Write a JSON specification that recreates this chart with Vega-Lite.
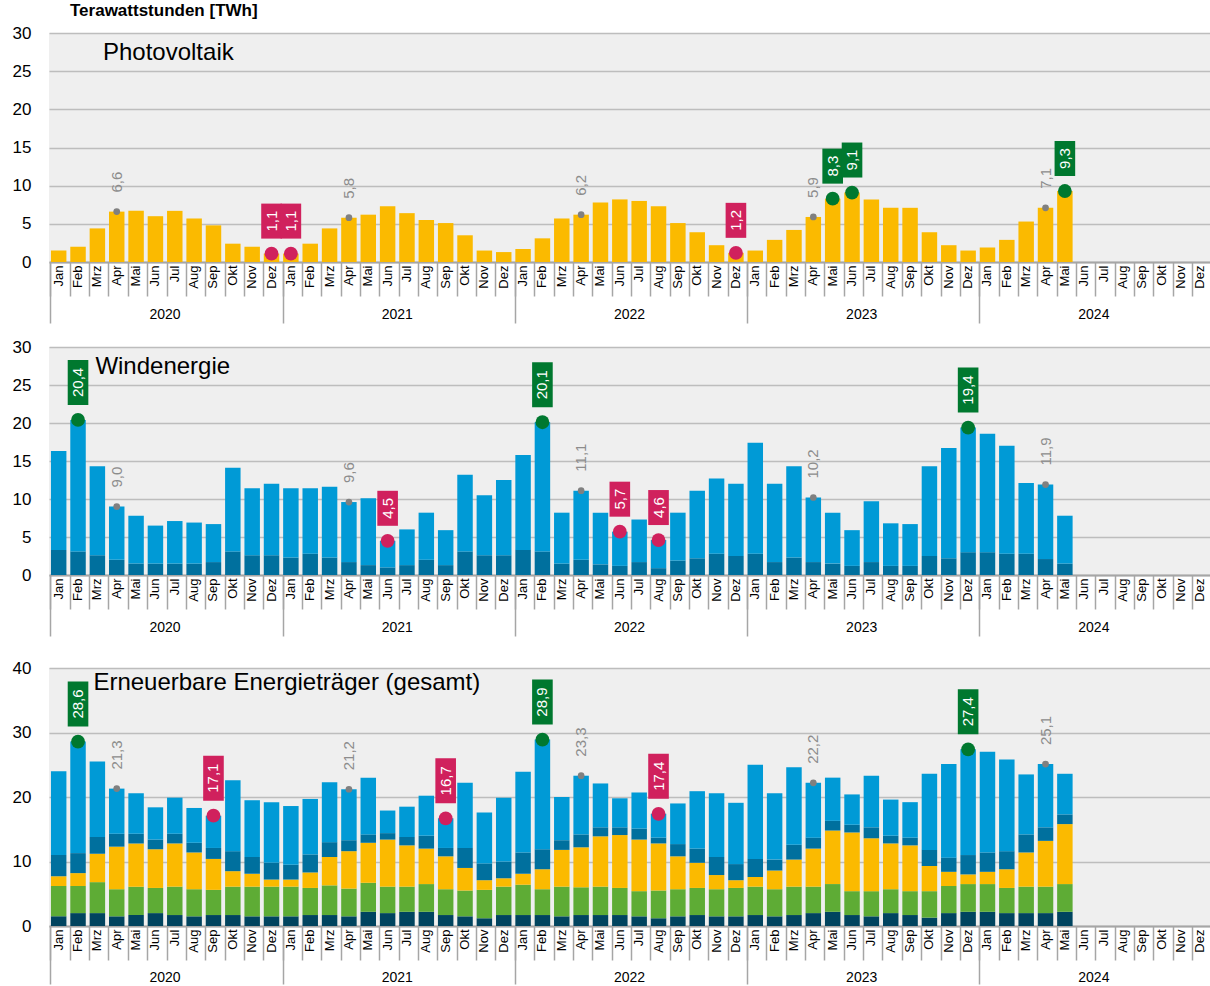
{
  "$schema": "https://vega.github.io/schema/vega-lite/v6.json",
  "padding": {"left": 12, "top": 2, "right": 0, "bottom": 0},
  "title": {"text": "Terawattstunden [TWh]", "anchor": "start", "frame": "group", "fontSize": 17, "fontWeight": "bold", "dx": 21, "offset": 4, "color": "#000000"},
  "datasets": {
    "main": [
      {"m":"2020-01","c_pv":1.5,"d_off":3.3,"e_on":13.0,"a_wasser":1.5,"b_bio":4.7},
      {"m":"2020-02","c_pv":2.0,"d_off":3.1,"e_on":17.3,"a_wasser":2.0,"b_bio":4.2},
      {"m":"2020-03","c_pv":4.4,"d_off":2.6,"e_on":11.7,"a_wasser":2.0,"b_bio":4.8},
      {"m":"2020-04","c_pv":6.6,"d_off":2.0,"e_on":7.0,"a_wasser":1.5,"b_bio":4.2},
      {"m":"2020-05","c_pv":6.7,"d_off":1.5,"e_on":6.3,"a_wasser":1.7,"b_bio":4.4},
      {"m":"2020-06","c_pv":6.0,"d_off":1.5,"e_on":5.0,"a_wasser":2.0,"b_bio":3.9},
      {"m":"2020-07","c_pv":6.7,"d_off":1.5,"e_on":5.6,"a_wasser":1.7,"b_bio":4.4},
      {"m":"2020-08","c_pv":5.7,"d_off":1.5,"e_on":5.4,"a_wasser":1.5,"b_bio":4.2},
      {"m":"2020-09","c_pv":4.8,"d_off":1.7,"e_on":5.0,"a_wasser":1.7,"b_bio":3.9},
      {"m":"2020-10","c_pv":2.4,"d_off":3.1,"e_on":11.0,"a_wasser":1.7,"b_bio":4.4},
      {"m":"2020-11","c_pv":2.0,"d_off":2.6,"e_on":8.8,"a_wasser":1.5,"b_bio":4.6},
      {"m":"2020-12","c_pv":1.1,"d_off":2.6,"e_on":9.4,"a_wasser":1.5,"b_bio":4.6},
      {"m":"2021-01","c_pv":1.1,"d_off":2.3,"e_on":9.1,"a_wasser":1.5,"b_bio":4.6},
      {"m":"2021-02","c_pv":2.4,"d_off":2.8,"e_on":8.6,"a_wasser":1.7,"b_bio":4.2},
      {"m":"2021-03","c_pv":4.4,"d_off":2.3,"e_on":9.3,"a_wasser":1.7,"b_bio":4.6},
      {"m":"2021-04","c_pv":5.8,"d_off":1.7,"e_on":7.9,"a_wasser":1.5,"b_bio":4.3},
      {"m":"2021-05","c_pv":6.2,"d_off":1.3,"e_on":8.8,"a_wasser":2.2,"b_bio":4.5},
      {"m":"2021-06","c_pv":7.3,"d_off":1.0,"e_on":3.5,"a_wasser":2.0,"b_bio":4.1},
      {"m":"2021-07","c_pv":6.4,"d_off":1.3,"e_on":4.7,"a_wasser":2.2,"b_bio":3.9},
      {"m":"2021-08","c_pv":5.5,"d_off":2.0,"e_on":6.2,"a_wasser":2.2,"b_bio":4.3},
      {"m":"2021-09","c_pv":5.1,"d_off":1.3,"e_on":4.6,"a_wasser":1.7,"b_bio":4.0},
      {"m":"2021-10","c_pv":3.5,"d_off":3.1,"e_on":10.1,"a_wasser":1.5,"b_bio":4.0},
      {"m":"2021-11","c_pv":1.5,"d_off":2.6,"e_on":7.9,"a_wasser":1.2,"b_bio":4.4},
      {"m":"2021-12","c_pv":1.3,"d_off":2.6,"e_on":9.9,"a_wasser":1.7,"b_bio":4.4},
      {"m":"2022-01","c_pv":1.7,"d_off":3.3,"e_on":12.5,"a_wasser":1.7,"b_bio":4.7},
      {"m":"2022-02","c_pv":3.1,"d_off":3.1,"e_on":17.0,"a_wasser":1.7,"b_bio":4.0},
      {"m":"2022-03","c_pv":5.7,"d_off":1.5,"e_on":6.7,"a_wasser":1.5,"b_bio":4.6},
      {"m":"2022-04","c_pv":6.2,"d_off":2.0,"e_on":9.1,"a_wasser":1.7,"b_bio":4.3},
      {"m":"2022-05","c_pv":7.8,"d_off":1.4,"e_on":6.8,"a_wasser":1.7,"b_bio":4.4},
      {"m":"2022-06","c_pv":8.2,"d_off":1.2,"e_on":4.5,"a_wasser":1.7,"b_bio":4.2},
      {"m":"2022-07","c_pv":8.0,"d_off":1.7,"e_on":5.6,"a_wasser":1.5,"b_bio":3.9},
      {"m":"2022-08","c_pv":7.3,"d_off":0.9,"e_on":3.7,"a_wasser":1.2,"b_bio":4.3},
      {"m":"2022-09","c_pv":5.1,"d_off":1.9,"e_on":6.3,"a_wasser":1.5,"b_bio":4.2},
      {"m":"2022-10","c_pv":3.9,"d_off":2.2,"e_on":8.9,"a_wasser":1.7,"b_bio":4.2},
      {"m":"2022-11","c_pv":2.2,"d_off":2.8,"e_on":9.9,"a_wasser":1.5,"b_bio":4.2},
      {"m":"2022-12","c_pv":1.2,"d_off":2.5,"e_on":9.5,"a_wasser":1.5,"b_bio":4.4},
      {"m":"2023-01","c_pv":1.5,"d_off":2.8,"e_on":14.6,"a_wasser":1.7,"b_bio":4.4},
      {"m":"2023-02","c_pv":2.9,"d_off":1.7,"e_on":10.3,"a_wasser":1.5,"b_bio":4.2},
      {"m":"2023-03","c_pv":4.2,"d_off":2.3,"e_on":12.0,"a_wasser":1.7,"b_bio":4.4},
      {"m":"2023-04","c_pv":5.9,"d_off":1.7,"e_on":8.5,"a_wasser":2.0,"b_bio":4.1},
      {"m":"2023-05","c_pv":8.3,"d_off":1.5,"e_on":6.7,"a_wasser":2.2,"b_bio":4.3},
      {"m":"2023-06","c_pv":9.1,"d_off":1.2,"e_on":4.7,"a_wasser":1.7,"b_bio":3.7},
      {"m":"2023-07","c_pv":8.2,"d_off":1.7,"e_on":8.0,"a_wasser":1.5,"b_bio":3.9},
      {"m":"2023-08","c_pv":7.1,"d_off":1.2,"e_on":5.6,"a_wasser":2.0,"b_bio":3.7},
      {"m":"2023-09","c_pv":7.1,"d_off":1.2,"e_on":5.5,"a_wasser":1.7,"b_bio":3.7},
      {"m":"2023-10","c_pv":3.9,"d_off":2.5,"e_on":11.8,"a_wasser":1.3,"b_bio":4.1},
      {"m":"2023-11","c_pv":2.2,"d_off":2.2,"e_on":14.5,"a_wasser":2.0,"b_bio":4.2},
      {"m":"2023-12","c_pv":1.5,"d_off":3.0,"e_on":16.4,"a_wasser":2.2,"b_bio":4.3},
      {"m":"2024-01","c_pv":1.9,"d_off":3.0,"e_on":15.6,"a_wasser":2.2,"b_bio":4.3},
      {"m":"2024-02","c_pv":2.9,"d_off":2.8,"e_on":14.2,"a_wasser":2.0,"b_bio":3.9},
      {"m":"2024-03","c_pv":5.3,"d_off":2.8,"e_on":9.3,"a_wasser":2.0,"b_bio":4.1},
      {"m":"2024-04","c_pv":7.1,"d_off":2.1,"e_on":9.8,"a_wasser":2.0,"b_bio":4.1},
      {"m":"2024-05","c_pv":9.3,"d_off":1.5,"e_on":6.3,"a_wasser":2.2,"b_bio":4.3}
    ],
    "ann": [
      {"p":"pv","k":"ref","m":"2020-04","v":6.6},
      {"p":"pv","k":"ref","m":"2021-04","v":5.8},
      {"p":"pv","k":"ref","m":"2022-04","v":6.2},
      {"p":"pv","k":"ref","m":"2023-04","v":5.9},
      {"p":"pv","k":"ref","m":"2024-04","v":7.1},
      {"p":"pv","k":"min","m":"2020-12","v":1.1},
      {"p":"pv","k":"min","m":"2021-01","v":1.1},
      {"p":"pv","k":"min","m":"2022-12","v":1.2},
      {"p":"pv","k":"max","m":"2023-05","v":8.3},
      {"p":"pv","k":"max","m":"2023-06","v":9.1},
      {"p":"pv","k":"max","m":"2024-05","v":9.3},
      {"p":"wind","k":"ref","m":"2020-04","v":9.0},
      {"p":"wind","k":"ref","m":"2021-04","v":9.6},
      {"p":"wind","k":"ref","m":"2022-04","v":11.1},
      {"p":"wind","k":"ref","m":"2023-04","v":10.2},
      {"p":"wind","k":"ref","m":"2024-04","v":11.9},
      {"p":"wind","k":"min","m":"2021-06","v":4.5},
      {"p":"wind","k":"min","m":"2022-06","v":5.7},
      {"p":"wind","k":"min","m":"2022-08","v":4.6},
      {"p":"wind","k":"max","m":"2020-02","v":20.4},
      {"p":"wind","k":"max","m":"2022-02","v":20.1},
      {"p":"wind","k":"max","m":"2023-12","v":19.4},
      {"p":"total","k":"ref","m":"2020-04","v":21.3},
      {"p":"total","k":"ref","m":"2021-04","v":21.2},
      {"p":"total","k":"ref","m":"2022-04","v":23.3},
      {"p":"total","k":"ref","m":"2023-04","v":22.2},
      {"p":"total","k":"ref","m":"2024-04","v":25.1},
      {"p":"total","k":"min","m":"2020-09","v":17.1},
      {"p":"total","k":"min","m":"2021-09","v":16.7},
      {"p":"total","k":"min","m":"2022-08","v":17.4},
      {"p":"total","k":"max","m":"2020-02","v":28.6},
      {"p":"total","k":"max","m":"2022-02","v":28.9},
      {"p":"total","k":"max","m":"2023-12","v":27.4}
    ]
  },
  "spacing": 22,
  "vconcat": [
    {
      "spacing": 14,
      "vconcat": [
        {
          "width": 1161, "height": 229,
          "layer": [
            {
              "encoding": {"x": {"field": "m", "type": "ordinal", "title": null,
                "scale": {"domain": ["2020-01","2020-02","2020-03","2020-04","2020-05","2020-06","2020-07","2020-08","2020-09","2020-10","2020-11","2020-12","2021-01","2021-02","2021-03","2021-04","2021-05","2021-06","2021-07","2021-08","2021-09","2021-10","2021-11","2021-12","2022-01","2022-02","2022-03","2022-04","2022-05","2022-06","2022-07","2022-08","2022-09","2022-10","2022-11","2022-12","2023-01","2023-02","2023-03","2023-04","2023-05","2023-06","2023-07","2023-08","2023-09","2023-10","2023-11","2023-12","2024-01","2024-02","2024-03","2024-04","2024-05","2024-06","2024-07","2024-08","2024-09","2024-10","2024-11","2024-12"], "paddingInner": 0.2, "paddingOuter": 0.1},
                "axis": {"orient": "bottom", "bandPosition": 0, "tickExtra": false, "tickSize": 34, "tickColor": "#a6a6a6", "tickWidth": 1.5, "domainColor": "#a6a6a6", "domainWidth": 2, "labelAngle": 270, "labelAlign": "right", "labelBaseline": "middle", "labelPadding": -31, "labelFontSize": 13, "labelColor": "#000000", "labelOverlap": false, "labelBound": false, "grid": false, "title": null,
                  "labelExpr": "['Jan','Feb','Mrz','Apr','Mai','Jun','Jul','Aug','Sep','Okt','Nov','Dez'][toNumber(substring(datum.value,5,7))-1]"}}},
              "layer": [
                {"data": {"name": "main"}, "mark": {"type": "bar", "color": "#fbba00"},
                 "encoding": {"y": {"field": "c_pv", "type": "quantitative", "title": null, "scale": {"domain": [0, 30], "nice": false},
                   "axis": {"values": [0,5,10,15,20,25,30], "domain": false, "ticks": false, "labelFontSize": 17, "labelPadding": 18, "labelColor": "#000000", "labelOverlap": false, "grid": true, "gridColor": "#bdbdbd", "gridWidth": 1.6, "title": null}}}},
                {"data": {"values": [{}]},
                 "mark": {"type": "text", "text": "Photovoltaik", "align": "left", "baseline": "alphabetic", "fontSize": 24, "dx": 5.6, "color": "#000000"},
                 "encoding": {"x": {"datum": "2020-03", "type": "ordinal", "title": null}, "y": {"datum": 26.5, "type": "quantitative", "title": null, "scale": {"domain": [0, 30], "nice": false}}}},
                {"data": {"name": "ann"}, "transform": [{"filter": "datum.p=='pv' && datum.k=='ref'"}],
                 "mark": {"type": "point", "filled": true, "size": 45, "color": "#808080", "opacity": 1},
                 "encoding": {"y": {"field": "v", "type": "quantitative", "title": null, "scale": {"domain": [0, 30], "nice": false}}}},
                {"data": {"name": "ann"}, "transform": [{"filter": "datum.p=='pv' && datum.k=='ref'"}],
                 "mark": {"type": "text", "angle": 270, "align": "left", "baseline": "middle", "yOffset": -19, "fontSize": 15, "color": "#8c8c8c", "text": {"expr": "replace(format(datum.v,'.1f'),'.',',')"}},
                 "encoding": {"y": {"field": "v", "type": "quantitative", "title": null, "scale": {"domain": [0, 30], "nice": false}}}},
                {"data": {"name": "ann"}, "transform": [{"filter": "datum.p=='pv' && datum.k!='ref' && datum.v<10"}],
                 "mark": {"type": "point", "filled": true, "opacity": 1, "shape": "M-0.589,-1H0.589V1H-0.589Z", "size": 1225, "yOffset": -32.5},
                 "encoding": {"y": {"field": "v", "type": "quantitative", "title": null, "scale": {"domain": [0, 30], "nice": false}},
                   "color": {"field": "k", "type": "nominal", "scale": {"domain": ["max", "min"], "range": ["#00782f", "#d0215d"]}, "legend": null}}},
                {"data": {"name": "ann"}, "transform": [{"filter": "datum.p=='pv' && datum.k!='ref' && datum.v<10"}],
                 "mark": {"type": "text", "angle": 270, "align": "center", "baseline": "middle", "yOffset": -32.5, "fontSize": 15, "color": "#ffffff", "text": {"expr": "replace(format(datum.v,'.1f'),'.',',')"}},
                 "encoding": {"y": {"field": "v", "type": "quantitative", "title": null, "scale": {"domain": [0, 30], "nice": false}}}},
                {"data": {"name": "ann"}, "transform": [{"filter": "datum.p=='pv' && datum.k!='ref'"}],
                 "mark": {"type": "point", "filled": true, "opacity": 1, "size": 190},
                 "encoding": {"y": {"field": "v", "type": "quantitative", "title": null, "scale": {"domain": [0, 30], "nice": false}},
                   "color": {"field": "k", "type": "nominal", "scale": {"domain": ["max", "min"], "range": ["#00782f", "#d0215d"]}, "legend": null}}}
              ],
              "resolve": {"scale": {"color": "independent"}}
            },
            {"data": {"name": "main"}, "mark": {"type": "point", "opacity": 0},
             "encoding": {"x": {"field": "m", "type": "ordinal", "title": null,
               "scale": {"domain": ["2020-01","2020-02","2020-03","2020-04","2020-05","2020-06","2020-07","2020-08","2020-09","2020-10","2020-11","2020-12","2021-01","2021-02","2021-03","2021-04","2021-05","2021-06","2021-07","2021-08","2021-09","2021-10","2021-11","2021-12","2022-01","2022-02","2022-03","2022-04","2022-05","2022-06","2022-07","2022-08","2022-09","2022-10","2022-11","2022-12","2023-01","2023-02","2023-03","2023-04","2023-05","2023-06","2023-07","2023-08","2023-09","2023-10","2023-11","2023-12","2024-01","2024-02","2024-03","2024-04","2024-05","2024-06","2024-07","2024-08","2024-09","2024-10","2024-11","2024-12"], "paddingInner": 0.2, "paddingOuter": 0.1},
               "axis": {"orient": "bottom", "values": ["2020-01","2021-01","2022-01","2023-01","2024-01"], "bandPosition": 0, "tickExtra": false, "tickSize": 61, "tickColor": "#a6a6a6", "tickWidth": 1.5, "domain": false, "grid": false, "labelAngle": 0, "labelAlign": "center", "labelBaseline": "middle", "labelPadding": -9, "labelOffset": 106.4, "labelFontSize": 14, "labelColor": "#000000", "labelBound": false, "labelOverlap": false, "title": null, "labelExpr": "substring(datum.value,0,4)"}}}}
          ],
          "resolve": {"axis": {"x": "independent"}}
        },
        {
          "width": 1161, "height": 228,
          "layer": [
            {
              "encoding": {"x": {"field": "m", "type": "ordinal", "title": null,
                "scale": {"domain": ["2020-01","2020-02","2020-03","2020-04","2020-05","2020-06","2020-07","2020-08","2020-09","2020-10","2020-11","2020-12","2021-01","2021-02","2021-03","2021-04","2021-05","2021-06","2021-07","2021-08","2021-09","2021-10","2021-11","2021-12","2022-01","2022-02","2022-03","2022-04","2022-05","2022-06","2022-07","2022-08","2022-09","2022-10","2022-11","2022-12","2023-01","2023-02","2023-03","2023-04","2023-05","2023-06","2023-07","2023-08","2023-09","2023-10","2023-11","2023-12","2024-01","2024-02","2024-03","2024-04","2024-05","2024-06","2024-07","2024-08","2024-09","2024-10","2024-11","2024-12"], "paddingInner": 0.2, "paddingOuter": 0.1},
                "axis": {"orient": "bottom", "bandPosition": 0, "tickExtra": false, "tickSize": 34, "tickColor": "#a6a6a6", "tickWidth": 1.5, "domainColor": "#a6a6a6", "domainWidth": 2, "labelAngle": 270, "labelAlign": "right", "labelBaseline": "middle", "labelPadding": -31, "labelFontSize": 13, "labelColor": "#000000", "labelOverlap": false, "labelBound": false, "grid": false, "title": null,
                  "labelExpr": "['Jan','Feb','Mrz','Apr','Mai','Jun','Jul','Aug','Sep','Okt','Nov','Dez'][toNumber(substring(datum.value,5,7))-1]"}}},
              "layer": [
                {"data": {"name": "main"}, "transform": [{"fold": ["d_off", "e_on"], "as": ["s", "val"]}],
                 "mark": {"type": "bar"},
                 "encoding": {"y": {"field": "val", "type": "quantitative", "stack": "zero", "title": null, "scale": {"domain": [0, 30], "nice": false},
                   "axis": {"values": [0,5,10,15,20,25,30], "domain": false, "ticks": false, "labelFontSize": 17, "labelPadding": 18, "labelColor": "#000000", "labelOverlap": false, "grid": true, "gridColor": "#bdbdbd", "gridWidth": 1.6, "title": null}},
                   "color": {"field": "s", "type": "nominal", "scale": {"domain": ["d_off", "e_on"], "range": ["#00709e", "#009ad6"]}, "legend": null},
                   "order": {"field": "s", "sort": "ascending"}}},
                {"data": {"values": [{}]},
                 "mark": {"type": "text", "text": "Windenergie", "align": "left", "baseline": "alphabetic", "fontSize": 24, "dx": -2, "color": "#000000"},
                 "encoding": {"x": {"datum": "2020-03", "type": "ordinal", "title": null}, "y": {"datum": 26.45, "type": "quantitative", "title": null, "scale": {"domain": [0, 30], "nice": false}}}},
                {"data": {"name": "ann"}, "transform": [{"filter": "datum.p=='wind' && datum.k=='ref'"}],
                 "mark": {"type": "point", "filled": true, "size": 45, "color": "#808080", "opacity": 1},
                 "encoding": {"y": {"field": "v", "type": "quantitative", "title": null, "scale": {"domain": [0, 30], "nice": false}}}},
                {"data": {"name": "ann"}, "transform": [{"filter": "datum.p=='wind' && datum.k=='ref'"}],
                 "mark": {"type": "text", "angle": 270, "align": "left", "baseline": "middle", "yOffset": -19, "fontSize": 15, "color": "#8c8c8c", "text": {"expr": "replace(format(datum.v,'.1f'),'.',',')"}},
                 "encoding": {"y": {"field": "v", "type": "quantitative", "title": null, "scale": {"domain": [0, 30], "nice": false}}}},
                {"data": {"name": "ann"}, "transform": [{"filter": "datum.p=='wind' && datum.k!='ref' && datum.v<10"}],
                 "mark": {"type": "point", "filled": true, "opacity": 1, "shape": "M-0.589,-1H0.589V1H-0.589Z", "size": 1225, "yOffset": -32.5},
                 "encoding": {"y": {"field": "v", "type": "quantitative", "title": null, "scale": {"domain": [0, 30], "nice": false}},
                   "color": {"field": "k", "type": "nominal", "scale": {"domain": ["max", "min"], "range": ["#00782f", "#d0215d"]}, "legend": null}}},
                {"data": {"name": "ann"}, "transform": [{"filter": "datum.p=='wind' && datum.k!='ref' && datum.v>=10"}],
                 "mark": {"type": "point", "filled": true, "opacity": 1, "shape": "M-0.458,-1H0.458V1H-0.458Z", "size": 2025, "yOffset": -37.5},
                 "encoding": {"y": {"field": "v", "type": "quantitative", "title": null, "scale": {"domain": [0, 30], "nice": false}},
                   "color": {"field": "k", "type": "nominal", "scale": {"domain": ["max", "min"], "range": ["#00782f", "#d0215d"]}, "legend": null}}},
                {"data": {"name": "ann"}, "transform": [{"filter": "datum.p=='wind' && datum.k!='ref' && datum.v<10"}],
                 "mark": {"type": "text", "angle": 270, "align": "center", "baseline": "middle", "yOffset": -32.5, "fontSize": 15, "color": "#ffffff", "text": {"expr": "replace(format(datum.v,'.1f'),'.',',')"}},
                 "encoding": {"y": {"field": "v", "type": "quantitative", "title": null, "scale": {"domain": [0, 30], "nice": false}}}},
                {"data": {"name": "ann"}, "transform": [{"filter": "datum.p=='wind' && datum.k!='ref' && datum.v>=10"}],
                 "mark": {"type": "text", "angle": 270, "align": "center", "baseline": "middle", "yOffset": -37.5, "fontSize": 15, "color": "#ffffff", "text": {"expr": "replace(format(datum.v,'.1f'),'.',',')"}},
                 "encoding": {"y": {"field": "v", "type": "quantitative", "title": null, "scale": {"domain": [0, 30], "nice": false}}}},
                {"data": {"name": "ann"}, "transform": [{"filter": "datum.p=='wind' && datum.k!='ref'"}],
                 "mark": {"type": "point", "filled": true, "opacity": 1, "size": 190},
                 "encoding": {"y": {"field": "v", "type": "quantitative", "title": null, "scale": {"domain": [0, 30], "nice": false}},
                   "color": {"field": "k", "type": "nominal", "scale": {"domain": ["max", "min"], "range": ["#00782f", "#d0215d"]}, "legend": null}}}
              ],
              "resolve": {"scale": {"color": "independent"}}
            },
            {"data": {"name": "main"}, "mark": {"type": "point", "opacity": 0},
             "encoding": {"x": {"field": "m", "type": "ordinal", "title": null,
               "scale": {"domain": ["2020-01","2020-02","2020-03","2020-04","2020-05","2020-06","2020-07","2020-08","2020-09","2020-10","2020-11","2020-12","2021-01","2021-02","2021-03","2021-04","2021-05","2021-06","2021-07","2021-08","2021-09","2021-10","2021-11","2021-12","2022-01","2022-02","2022-03","2022-04","2022-05","2022-06","2022-07","2022-08","2022-09","2022-10","2022-11","2022-12","2023-01","2023-02","2023-03","2023-04","2023-05","2023-06","2023-07","2023-08","2023-09","2023-10","2023-11","2023-12","2024-01","2024-02","2024-03","2024-04","2024-05","2024-06","2024-07","2024-08","2024-09","2024-10","2024-11","2024-12"], "paddingInner": 0.2, "paddingOuter": 0.1},
               "axis": {"orient": "bottom", "values": ["2020-01","2021-01","2022-01","2023-01","2024-01"], "bandPosition": 0, "tickExtra": false, "tickSize": 61, "tickColor": "#a6a6a6", "tickWidth": 1.5, "domain": false, "grid": false, "labelAngle": 0, "labelAlign": "center", "labelBaseline": "middle", "labelPadding": -9, "labelOffset": 106.4, "labelFontSize": 14, "labelColor": "#000000", "labelBound": false, "labelOverlap": false, "title": null, "labelExpr": "substring(datum.value,0,4)"}}}}
          ],
          "resolve": {"axis": {"x": "independent"}}
        }
      ]
    },
    {
      "width": 1161, "height": 258,
      "layer": [
        {
          "encoding": {"x": {"field": "m", "type": "ordinal", "title": null,
            "scale": {"domain": ["2020-01","2020-02","2020-03","2020-04","2020-05","2020-06","2020-07","2020-08","2020-09","2020-10","2020-11","2020-12","2021-01","2021-02","2021-03","2021-04","2021-05","2021-06","2021-07","2021-08","2021-09","2021-10","2021-11","2021-12","2022-01","2022-02","2022-03","2022-04","2022-05","2022-06","2022-07","2022-08","2022-09","2022-10","2022-11","2022-12","2023-01","2023-02","2023-03","2023-04","2023-05","2023-06","2023-07","2023-08","2023-09","2023-10","2023-11","2023-12","2024-01","2024-02","2024-03","2024-04","2024-05","2024-06","2024-07","2024-08","2024-09","2024-10","2024-11","2024-12"], "paddingInner": 0.2, "paddingOuter": 0.1},
            "axis": {"orient": "bottom", "bandPosition": 0, "tickExtra": false, "tickSize": 34, "tickColor": "#a6a6a6", "tickWidth": 1.5, "domainColor": "#a6a6a6", "domainWidth": 2, "labelAngle": 270, "labelAlign": "right", "labelBaseline": "middle", "labelPadding": -31, "labelFontSize": 13, "labelColor": "#000000", "labelOverlap": false, "labelBound": false, "grid": false, "title": null,
              "labelExpr": "['Jan','Feb','Mrz','Apr','Mai','Jun','Jul','Aug','Sep','Okt','Nov','Dez'][toNumber(substring(datum.value,5,7))-1]"}}},
          "layer": [
            {"data": {"name": "main"}, "transform": [{"fold": ["a_wasser", "b_bio", "c_pv", "d_off", "e_on"], "as": ["s", "val"]}],
             "mark": {"type": "bar"},
             "encoding": {"y": {"field": "val", "type": "quantitative", "stack": "zero", "title": null, "scale": {"domain": [0, 40], "nice": false},
               "axis": {"values": [0,5,10,15,20,25,30,35,40], "domain": false, "ticks": false, "labelFontSize": 17, "labelPadding": 18, "labelColor": "#000000", "labelOverlap": false, "grid": true, "gridColor": "#bdbdbd", "gridWidth": 1.6, "title": null}},
               "color": {"field": "s", "type": "nominal", "scale": {"domain": ["a_wasser", "b_bio", "c_pv", "d_off", "e_on"], "range": ["#00445f", "#5eac35", "#fbba00", "#00709e", "#009ad6"]}, "legend": null},
               "order": {"field": "s", "sort": "ascending"}}},
            {"data": {"values": [{}]},
             "mark": {"type": "text", "text": "Erneuerbare Energieträger (gesamt)", "align": "left", "baseline": "alphabetic", "fontSize": 24, "dx": -4, "color": "#000000"},
             "encoding": {"x": {"datum": "2020-03", "type": "ordinal", "title": null}, "y": {"datum": 36.6, "type": "quantitative", "title": null, "scale": {"domain": [0, 40], "nice": false}}}},
            {"data": {"name": "ann"}, "transform": [{"filter": "datum.p=='total' && datum.k=='ref'"}],
             "mark": {"type": "point", "filled": true, "size": 45, "color": "#808080", "opacity": 1},
             "encoding": {"y": {"field": "v", "type": "quantitative", "title": null, "scale": {"domain": [0, 40], "nice": false}}}},
            {"data": {"name": "ann"}, "transform": [{"filter": "datum.p=='total' && datum.k=='ref'"}],
             "mark": {"type": "text", "angle": 270, "align": "left", "baseline": "middle", "yOffset": -19, "fontSize": 15, "color": "#8c8c8c", "text": {"expr": "replace(format(datum.v,'.1f'),'.',',')"}},
             "encoding": {"y": {"field": "v", "type": "quantitative", "title": null, "scale": {"domain": [0, 40], "nice": false}}}},
            {"data": {"name": "ann"}, "transform": [{"filter": "datum.p=='total' && datum.k!='ref'"}],
             "mark": {"type": "point", "filled": true, "opacity": 1, "shape": "M-0.458,-1H0.458V1H-0.458Z", "size": 2025, "yOffset": -37.5},
             "encoding": {"y": {"field": "v", "type": "quantitative", "title": null, "scale": {"domain": [0, 40], "nice": false}},
               "color": {"field": "k", "type": "nominal", "scale": {"domain": ["max", "min"], "range": ["#00782f", "#d0215d"]}, "legend": null}}},
            {"data": {"name": "ann"}, "transform": [{"filter": "datum.p=='total' && datum.k!='ref'"}],
             "mark": {"type": "text", "angle": 270, "align": "center", "baseline": "middle", "yOffset": -37.5, "fontSize": 15, "color": "#ffffff", "text": {"expr": "replace(format(datum.v,'.1f'),'.',',')"}},
             "encoding": {"y": {"field": "v", "type": "quantitative", "title": null, "scale": {"domain": [0, 40], "nice": false}}}},
            {"data": {"name": "ann"}, "transform": [{"filter": "datum.p=='total' && datum.k!='ref'"}],
             "mark": {"type": "point", "filled": true, "opacity": 1, "size": 190},
             "encoding": {"y": {"field": "v", "type": "quantitative", "title": null, "scale": {"domain": [0, 40], "nice": false}},
               "color": {"field": "k", "type": "nominal", "scale": {"domain": ["max", "min"], "range": ["#00782f", "#d0215d"]}, "legend": null}}}
          ],
          "resolve": {"scale": {"color": "independent"}}
        },
        {"data": {"name": "main"}, "mark": {"type": "point", "opacity": 0},
         "encoding": {"x": {"field": "m", "type": "ordinal", "title": null,
           "scale": {"domain": ["2020-01","2020-02","2020-03","2020-04","2020-05","2020-06","2020-07","2020-08","2020-09","2020-10","2020-11","2020-12","2021-01","2021-02","2021-03","2021-04","2021-05","2021-06","2021-07","2021-08","2021-09","2021-10","2021-11","2021-12","2022-01","2022-02","2022-03","2022-04","2022-05","2022-06","2022-07","2022-08","2022-09","2022-10","2022-11","2022-12","2023-01","2023-02","2023-03","2023-04","2023-05","2023-06","2023-07","2023-08","2023-09","2023-10","2023-11","2023-12","2024-01","2024-02","2024-03","2024-04","2024-05","2024-06","2024-07","2024-08","2024-09","2024-10","2024-11","2024-12"], "paddingInner": 0.2, "paddingOuter": 0.1},
           "axis": {"orient": "bottom", "values": ["2020-01","2021-01","2022-01","2023-01","2024-01"], "bandPosition": 0, "tickExtra": false, "tickSize": 58, "tickColor": "#a6a6a6", "tickWidth": 1.5, "domain": false, "grid": false, "labelAngle": 0, "labelAlign": "center", "labelBaseline": "middle", "labelPadding": -7, "labelOffset": 106.4, "labelFontSize": 14, "labelColor": "#000000", "labelBound": false, "labelOverlap": false, "title": null, "labelExpr": "substring(datum.value,0,4)"}}}}
      ],
      "resolve": {"axis": {"x": "independent"}}
    }
  ],
  "config": {
    "font": "Liberation Sans",
    "view": {"fill": "#efefef", "stroke": null},
    "axis": {"labelFont": "Liberation Sans", "labelOverlap": false},
    "axisY": {"labelOverlap": false, "tickCount": 8}
  }
}
